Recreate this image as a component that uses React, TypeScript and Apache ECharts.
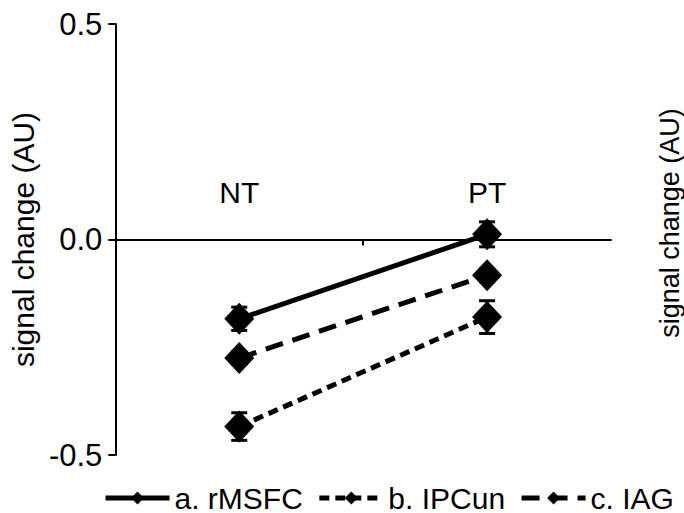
import React, { useEffect, useRef } from "react";
import * as echarts from "echarts";

const categories = ["NT", "PT"];
const seriesNames = ["a. rMSFC", "b. IPCun", "c. IAG"];
const rMSFC = [-0.184, 0.012];
const rMSFCErr = [0.027, 0.029];
const IPCun = [-0.434, -0.18];
const IPCunErr = [0.032, 0.038];
const IAG = [-0.275, -0.083];
const IAGErr = [0.015, 0.015];
const yTicks = [-0.5, 0.0, 0.5];

const FONT = "Liberation Sans";

export default function App() {
  const ref = useRef<HTMLDivElement>(null);
  useEffect(() => {
    if (!ref.current) return;
    const chart = echarts.init(ref.current, null, { renderer: "svg" });
    const values = [rMSFC, IPCun, IAG];
    const errs = [rMSFCErr, IPCunErr, IAGErr];
    const dashes: any[] = ["solid", [10, 6], [18, 10]];

    const lineSeries = seriesNames.map((name, i) => ({
      name,
      type: "line",
      data: values[i],
      symbol: "diamond",
      symbolSize: [30, 32],
      itemStyle: { color: "#000" },
      lineStyle: { color: "#000", width: 5, type: dashes[i] },
      z: 3,
    }));

    const errSeries = seriesNames.map((name, i) => ({
      name: name + " err",
      type: "custom",
      z: 2,
      data: values[i].map((v, j) => [j, v, errs[i][j]]),
      encode: { x: 0, y: 1 },
      renderItem: (params: any, api: any) => {
        const x = api.value(0);
        const y = api.value(1);
        const e = api.value(2);
        const top = api.coord([x, y + e]);
        const bot = api.coord([x, y - e]);
        const hw = 8;
        const style = { stroke: "#000", lineWidth: 3 };
        return {
          type: "group",
          children: [
            { type: "line", shape: { x1: top[0], y1: top[1], x2: bot[0], y2: bot[1] }, style },
            { type: "line", shape: { x1: top[0] - hw, y1: top[1], x2: top[0] + hw, y2: top[1] }, style },
            { type: "line", shape: { x1: bot[0] - hw, y1: bot[1], x2: bot[0] + hw, y2: bot[1] }, style },
          ],
        };
      },
    }));

    chart.setOption({
      animation: false,
      backgroundColor: "#fff",
      textStyle: { fontFamily: FONT },
      grid: { left: 110, right: 73, top: 24, bottom: 58 },
      legend: {
        data: seriesNames,
        left: 103,
        top: 483,
        width: 600,
        padding: 0,
        itemWidth: 64,
        itemHeight: 16,
        itemGap: 14,
        lineStyle: { width: 5 },
        textStyle: { fontSize: 30, color: "#000", fontFamily: FONT },
      },
      graphic: [
        {
          type: "text",
          x: 670,
          y: 223,
          rotation: Math.PI / 2,
          style: {
            text: "signal change (AU)",
            fontSize: 27,
            fontFamily: FONT,
            fill: "#000",
            align: "center",
            verticalAlign: "middle",
          },
        },
      ],
      xAxis: {
        type: "category",
        data: categories,
        boundaryGap: true,
        position: "bottom",
        offset: -215.5,
        axisLine: { onZero: false, lineStyle: { color: "#000", width: 2 } },
        axisTick: { show: true, length: 6, lineStyle: { color: "#000", width: 2 } },
        axisLabel: { inside: true, margin: 32, fontSize: 30, color: "#000", fontFamily: FONT },
        splitLine: { show: false },
      },
      yAxis: {
        type: "value",
        min: yTicks[0],
        max: yTicks[yTicks.length - 1],
        interval: 0.5,
        name: "signal change (AU)",
        nameLocation: "middle",
        nameGap: 66,
        nameTextStyle: { fontSize: 30, color: "#000", fontFamily: FONT },
        axisLine: { show: true, lineStyle: { color: "#000", width: 2 } },
        axisTick: { show: true, length: 7, lineStyle: { color: "#000", width: 2 } },
        axisLabel: {
          fontSize: 31,
          color: "#000",
          margin: 13,
          fontFamily: FONT,
          formatter: (v: number) => v.toFixed(1),
        },
        splitLine: { show: false },
      },
      series: [...errSeries, ...lineSeries],
    });
    return () => chart.dispose();
  }, []);
  return (
    <div
      ref={ref}
      style={{ position: "fixed", left: 0, top: 0, width: 684, height: 513, background: "#fff" }}
    />
  );
}
